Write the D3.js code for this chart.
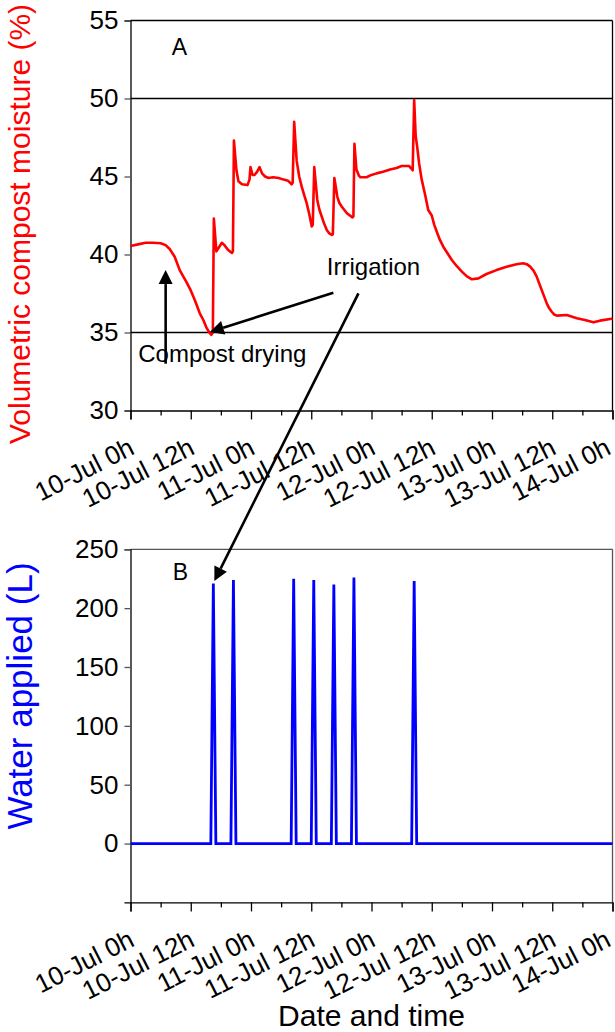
<!DOCTYPE html>
<html>
<head>
<meta charset="utf-8">
<script src="https://cdn.jsdelivr.net/npm/d3@7"></script>
<style>
  html, body { margin: 0; padding: 0; background: #fff; }
  svg { display: block; font-family: "Liberation Sans", Arial, sans-serif; }
</style>
</head>
<body>
<svg id="chart" width="615" height="1032"></svg>
<script>
// Time axis: hours since 10-Jul 0h, labelled every 12 h, minor ticks every 6 h
const majorHours = [0, 12, 24, 36, 48, 60, 72, 84, 96];
const minorHours = [6, 18, 30, 42, 54, 66, 78, 90];
const timeLabels = ["10-Jul 0h", "10-Jul 12h", "11-Jul 0h", "11-Jul 12h", "12-Jul 0h",
                    "12-Jul 12h", "13-Jul 0h", "13-Jul 12h", "14-Jul 0h"];

// Panel A: volumetric compost moisture (%), [hour, value]
const moisture = [
  [0,40.55],[1.5,40.65],[3,40.75],[4.5,40.75],[6,40.72],[7,40.6],[7.8,40.35],[8.8,39.86],
  [9.8,39.0],[10.5,38.6],[11.1,38.26],[12,37.7],[12.8,37.08],[13.8,36.23],[14.5,35.8],
  [15.1,35.33],[15.7,35.0],[16.1,34.85],[16.4,35.0],[16.6,42.3],[17.1,40.2],[17.5,40.4],
  [18.2,40.75],[18.7,40.6],[19.4,40.3],[20.2,40.1],[20.4,40.2],[20.6,47.3],[21.1,45.4],
  [21.5,44.7],[22.2,44.5],[23.3,44.45],[23.7,44.8],[23.9,45.6],[24.3,45.1],[24.7,45.1],
  [25.2,45.3],[25.7,45.6],[26.2,45.2],[26.8,45.0],[27.5,44.9],[28.4,44.95],[29.5,44.9],
  [30.5,44.8],[31.4,44.72],[32.1,44.5],[32.3,44.6],[32.6,48.5],[33.1,46.0],[33.6,45.0],
  [34.1,44.35],[34.6,43.8],[35.1,43.28],[35.6,42.6],[36.1,41.8],[36.3,41.9],[36.6,45.6],
  [37.2,43.5],[37.6,42.9],[38.1,42.42],[38.6,41.95],[39.1,41.57],[39.6,41.35],[40.1,41.25],
  [40.3,41.3],[40.6,44.9],[41.2,43.7],[41.6,43.3],[42.1,43.06],[43.1,42.64],[44.2,42.38],
  [44.4,42.45],[44.6,47.1],[45.0,45.45],[45.5,45.05],[45.8,44.95],[47.0,44.95],[48.0,45.1],
  [49.0,45.2],[50.3,45.3],[51.7,45.45],[53,45.55],[54,45.67],[55.5,45.67],[56.2,45.4],
  [56.5,49.9],[56.8,47.6],[57.1,46.9],[57.5,45.8],[58.0,44.8],[58.7,43.8],[59.3,42.85],
  [60.0,42.5],[60.5,41.9],[61.0,41.46],[61.6,40.95],[62.3,40.5],[63.2,40.05],[64.0,39.65],
  [65.0,39.25],[66.0,38.9],[67.0,38.6],[68.0,38.41],[69.3,38.47],[70.9,38.75],[72.9,39.0],
  [74.9,39.22],[76.9,39.37],[78.2,39.44],[78.9,39.38],[79.6,39.22],[80.3,38.95],[80.9,38.58],
  [81.4,38.15],[81.9,37.72],[82.4,37.3],[82.9,36.87],[83.4,36.55],[83.9,36.33],[84.4,36.15],
  [84.9,36.08],[86.9,36.12],[88.9,35.91],[90.5,35.8],[92.2,35.65],[93.5,35.76],[95.8,35.88],
  [96,35.9]
];
const moistureTicks = [30, 35, 40, 45, 50, 55];
const moistureRefLines = [35, 50];

// Panel B: water applied (L), [hour, litres]
const water = [
  [0,0],[16,0],[16.5,221],[17,0],[20,0],[20.5,224],[21,0],[32,0],[32.5,225],[33,0],
  [36,0],[36.5,224],[37,0],[40,0],[40.5,220],[41,0],[44,0],[44.5,226],[45,0],
  [56,0],[56.5,223],[57,0],[96,0]
];
const waterTicks = [0, 50, 100, 150, 200, 250];

// Annotation anchors in data units
const panelLabels = [
  { panel: "A", hour: 8.2, value: 52.8 },
  { panel: "B", hour: 8.4, value: 224 }
];
const textNotes = [
  { text: "Irrigation", hour: 39.1, value: 38.68 },
  { text: "Compost drying", hour: 1.55, value: 33.13 }
];
const dryingArrow = { from: [7.0, 33.0], to: [7.0, 39.0] };
const irrigationArrowA = { from: [40.4, 37.55], to: [15.8, 35.03] };
const irrigationArrowB = { from: [45.4, 37.51], to: [16.7, 223] };

const svg = d3.select("#chart");
const left = 130.5, right = 612.5;
const font = "Liberation Sans, Arial, sans-serif";

const x = d3.scaleLinear().domain([0, 96]).range([left, right]);
const yA = d3.scaleLinear().domain([30, 55]).range([410.5, 20.5]);
const yB = d3.scaleLinear().domain([-50, 250]).range([902.4, 549.3]);

function drawPanel(y, ticks, frameColor) {
  const g = svg.append("g");
  const [y0, y1] = y.range();
  // frame: top and right edges
  g.append("line").attr("x1", left).attr("x2", right).attr("y1", y1).attr("y2", y1)
    .attr("stroke", frameColor).attr("stroke-width", 1.3);
  g.append("line").attr("x1", right).attr("x2", right).attr("y1", y1).attr("y2", y0)
    .attr("stroke", frameColor).attr("stroke-width", 1.3);
  // left axis
  const yAxis = d3.axisLeft(y).tickValues(ticks).tickSize(6).tickPadding(6)
    .tickFormat(d3.format("d"));
  const ga = g.append("g").attr("transform", `translate(${left},0)`).call(yAxis);
  ga.select(".domain").attr("stroke", "#000").attr("stroke-width", 1.3);
  ga.selectAll(".tick line").attr("stroke", "#555").attr("stroke-width", 1.3);
  ga.selectAll(".tick text").attr("font-family", font).attr("font-size", 26).attr("fill", "#000");
  // bottom time axis
  const xAxis = d3.axisBottom(x).tickValues(majorHours).tickSize(9).tickFormat("");
  const gx = g.append("g").attr("transform", `translate(0,${y0})`).call(xAxis);
  gx.select(".domain").attr("stroke", "#000").attr("stroke-width", 1.3);
  gx.selectAll(".tick line").attr("stroke", "#000").attr("stroke-width", 1.3);
  const xMinor = d3.axisBottom(x).tickValues(minorHours).tickSize(5).tickFormat("");
  const gm = g.append("g").attr("transform", `translate(0,${y0})`).call(xMinor);
  gm.select(".domain").remove();
  gm.selectAll(".tick line").attr("stroke", "#000").attr("stroke-width", 1.3);
  // rotated date labels (kept inside the right edge of the page)
  g.selectAll("text.tl").data(majorHours).join("text")
    .attr("class", "tl")
    .attr("transform", (d) => `translate(${Math.min(x(d) - 3, 604)},${y0 + 26}) rotate(-27)`)
    .attr("text-anchor", "end")
    .attr("dy", "0.72em")
    .attr("font-family", font).attr("font-size", 26).attr("fill", "#000")
    .text((d, i) => timeLabels[i]);
  return g;
}

drawPanel(yA, moistureTicks, "#000");
drawPanel(yB, waterTicks, "#555");

// reference lines in panel A
svg.selectAll("line.ref").data(moistureRefLines).join("line")
  .attr("class", "ref")
  .attr("x1", left).attr("x2", right)
  .attr("y1", (d) => yA(d)).attr("y2", (d) => yA(d))
  .attr("stroke", "#000").attr("stroke-width", 1.3);

// moisture trace
svg.append("path").datum(moisture)
  .attr("d", d3.line().x((d) => x(d[0])).y((d) => yA(d[1])))
  .attr("fill", "none").attr("stroke", "#ff0000").attr("stroke-width", 2.6)
  .attr("stroke-linejoin", "round");

// water trace
svg.append("path").datum(water)
  .attr("d", d3.line().x((d) => x(d[0])).y((d) => yB(d[1])))
  .attr("fill", "none").attr("stroke", "#0000ff").attr("stroke-width", 2.8)
  .attr("stroke-linejoin", "miter");

// axis titles
svg.append("text")
  .attr("transform", `translate(30,224) rotate(-90)`)
  .attr("text-anchor", "middle").attr("font-family", font).attr("font-size", 30)
  .attr("fill", "#ff0000").text("Volumetric compost moisture (%)");
svg.append("text")
  .attr("transform", `translate(32,696) rotate(-90)`)
  .attr("text-anchor", "middle").attr("font-family", font).attr("font-size", 35)
  .attr("fill", "#0000ff").text("Water applied (L)");
svg.append("text")
  .attr("x", (left + right) / 2).attr("y", 1026)
  .attr("text-anchor", "middle").attr("font-family", font).attr("font-size", 30)
  .attr("fill", "#000").text("Date and time");

// panel letters
svg.selectAll("text.panel").data(panelLabels).join("text")
  .attr("class", "panel")
  .attr("x", (d) => x(d.hour))
  .attr("y", (d) => (d.panel === "A" ? yA : yB)(d.value))
  .attr("font-family", font).attr("font-size", 23).attr("fill", "#000")
  .text((d) => d.panel);

// annotation text
svg.selectAll("text.note").data(textNotes).join("text")
  .attr("class", "note")
  .attr("x", (d) => x(d.hour)).attr("y", (d) => yA(d.value))
  .attr("font-family", font).attr("font-size", 24).attr("fill", "#000")
  .text((d) => d.text);

// arrows with filled heads
function arrow(p0, p1) {
  const [x0, y0] = p0, [x1, y1] = p1;
  const ang = Math.atan2(y1 - y0, x1 - x0);
  const len = 14, half = 7;
  const bx = x1 - len * Math.cos(ang), by = y1 - len * Math.sin(ang);
  svg.append("line").attr("x1", x0).attr("y1", y0).attr("x2", bx).attr("y2", by)
    .attr("stroke", "#000").attr("stroke-width", 2.6);
  const nx = -Math.sin(ang), ny = Math.cos(ang);
  svg.append("path")
    .attr("d", `M${x1},${y1}L${bx + nx * half},${by + ny * half}L${bx - nx * half},${by - ny * half}Z`)
    .attr("fill", "#000");
}
arrow([x(dryingArrow.from[0]), yA(dryingArrow.from[1])], [x(dryingArrow.to[0]), yA(dryingArrow.to[1])]);
arrow([x(irrigationArrowA.from[0]), yA(irrigationArrowA.from[1])], [x(irrigationArrowA.to[0]), yA(irrigationArrowA.to[1])]);
arrow([x(irrigationArrowB.from[0]), yA(irrigationArrowB.from[1])], [x(irrigationArrowB.to[0]), yB(irrigationArrowB.to[1])]);
</script>
</body>
</html>
